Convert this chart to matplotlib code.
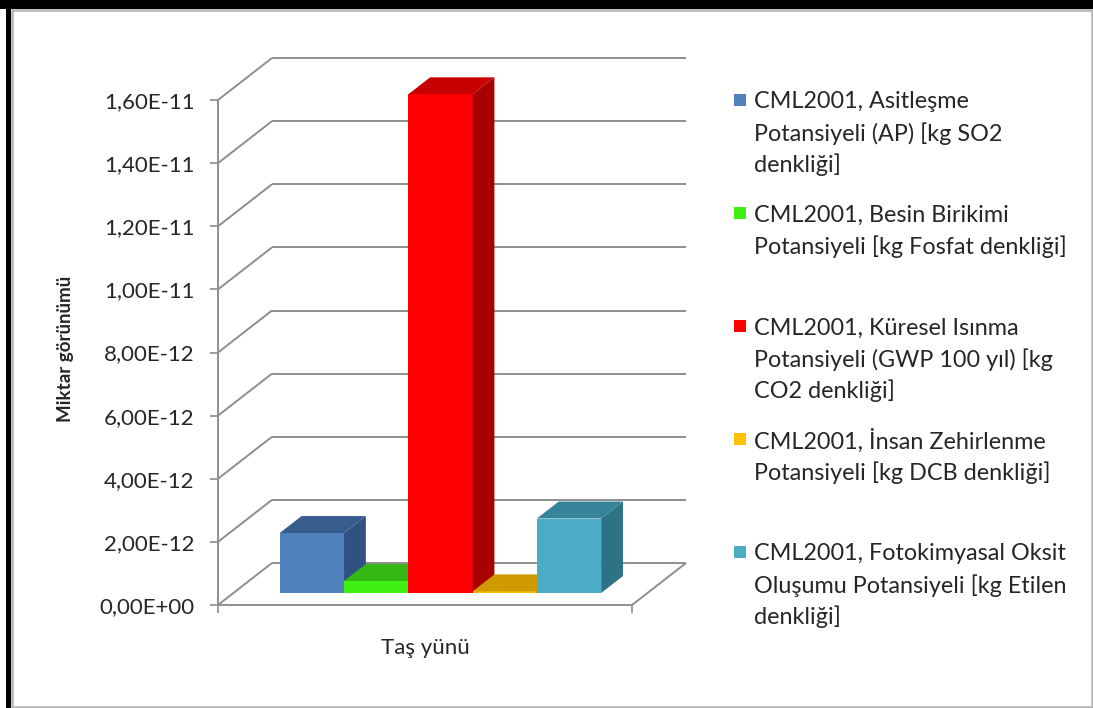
import numpy as np
import matplotlib
matplotlib.use("Agg")
import matplotlib.pyplot as plt
from matplotlib.patches import Polygon, Rectangle
from matplotlib.ticker import FuncFormatter, FixedLocator

plt.rcParams['font.family'] = ['Lato', 'DejaVu Sans']

# ---- data -------------------------------------------------------------
category = "Taş yünü"
series_labels = [
    "CML2001, Asitleşme\nPotansiyeli (AP) [kg SO2\ndenkliği]",
    "CML2001, Besin Birikimi\nPotansiyeli [kg Fosfat denkliği]",
    "CML2001, Küresel Isınma\nPotansiyeli (GWP 100 yıl) [kg\nCO2 denkliği]",
    "CML2001, İnsan Zehirlenme\nPotansiyeli [kg DCB denkliği]",
    "CML2001, Fotokimyasal Oksit\nOluşumu Potansiyeli [kg Etilen\ndenkliği]",
]
values = [1.90e-12, 3.8e-13, 1.58e-11, 5.0e-14, 2.36e-12]
y_ticks = [0, 2e-12, 4e-12, 6e-12, 8e-12, 1e-11, 1.2e-11, 1.4e-11, 1.6e-11]
y_title = "Miktar görünümü"

# face colours: front, top, side
front_colors = ["#4f81bd", "#40f012", "#ff0000", "#ffc000", "#4bacc6"]
top_colors = ["#375d8c", "#33b814", "#c80000", "#cf9a00", "#35849a"]
side_colors = ["#2f5282", "#279a0e", "#a80000", "#b08400", "#2e7286"]

GRID = "#8e8e8e"
TEXT = "#262626"

W, H = 1093, 708
fig = plt.figure(figsize=(W / 100, H / 100), dpi=100)
fig.patch.set_facecolor("white")

# front plane of the 3-D box
left_px, right_px, bot_px, top_px = 218, 632, 605, 100
ax = fig.add_axes([left_px / W, 1 - bot_px / H,
                   (right_px - left_px) / W, (bot_px - top_px) / H])
n = len(values)
gap = 0.72
xlim = (-0.5 - gap, n - 0.5 + gap)
ylim = (0, y_ticks[-1])
ax.set_xlim(*xlim)
ax.set_ylim(*ylim)
ax.patch.set_visible(False)

# depth vector (pixels) converted to data units
DX, DY = 54, 42
ux = (right_px - left_px) / (xlim[1] - xlim[0])
uy = (bot_px - top_px) / (ylim[1] - ylim[0])
ddx, ddy = DX / ux, DY / uy


def P(x, v, d):
    return (x + d * ddx, v + d * ddy)


def line3(p, q, **kw):
    ax.plot([p[0], q[0]], [p[1], q[1]], color=GRID, lw=1.4,
            solid_capstyle="butt", clip_on=False, zorder=1, **kw)


# walls: gridlines on the back wall and the left side wall
for v in y_ticks:
    line3(P(xlim[0], v, 0), P(xlim[0], v, 1))
    line3(P(xlim[0], v, 1), P(xlim[1], v, 1))
# right edge of the floor
line3(P(xlim[1], 0, 0), P(xlim[1], 0, 1))

# bars as boxes
D0, D1 = 0.286, 0.69
for i, h in enumerate(values):
    x0, x1 = i - 0.5, i + 0.5
    ax.bar(i + D0 * ddx, h, width=1.0, bottom=D0 * ddy,
           color=front_colors[i], linewidth=0, zorder=3 + i, clip_on=False)
    top = [P(x0, h, D0), P(x1, h, D0), P(x1, h, D1), P(x0, h, D1)]
    side = [P(x1, 0, D0), P(x1, h, D0), P(x1, h, D1), P(x1, 0, D1)]
    ax.add_patch(Polygon(side, closed=True, facecolor=side_colors[i],
                         edgecolor="none", zorder=3 + i, clip_on=False))
    ax.add_patch(Polygon(top, closed=True, facecolor=top_colors[i],
                         edgecolor="none", zorder=3 + i, clip_on=False))

# axes lines and ticks
for s in ("top", "right"):
    ax.spines[s].set_visible(False)
for s in ("left", "bottom"):
    ax.spines[s].set_color(GRID)
    ax.spines[s].set_linewidth(1.4)
    ax.spines[s].set_zorder(2)

ax.yaxis.set_major_locator(FixedLocator(y_ticks))
ax.yaxis.set_major_formatter(FuncFormatter(lambda v, p: f"{v:.2E}".replace(".", ",")))
ax.tick_params(axis="y", direction="out", length=6, width=1.2, color=GRID,
               pad=11, labelsize=16, labelcolor=TEXT)

ax.xaxis.set_major_locator(FixedLocator(list(xlim)))
ax.xaxis.set_major_formatter(FuncFormatter(lambda v, p: ""))
ax.xaxis.set_minor_locator(FixedLocator([(n - 1) / 2]))
ax.set_xticklabels([category], minor=True)
ax.tick_params(axis="x", which="major", direction="out", length=6, width=1.2,
               color=GRID)
ax.tick_params(axis="x", which="minor", length=0, pad=24, labelsize=16,
               labelcolor=TEXT)

fig.text(65 / W, 1 - 349 / H, y_title, rotation=90, ha="center", va="center",
         fontsize=13.5, fontweight="bold", color=TEXT)

# legend
leg_x_box, leg_x_text = 734, 754
first_y, slot, pitch = 100, 113, 31.5
for k, lab in enumerate(series_labels):
    y0 = first_y + k * slot
    fig.patches.append(Rectangle((leg_x_box / W, 1 - (y0 + 6) / H), 12 / W, 12 / H,
                                 transform=fig.transFigure,
                                 facecolor=front_colors[k], edgecolor="none"))
    for j, line in enumerate(lab.split("\n")):
        fig.text(leg_x_text / W, 1 - (y0 + j * pitch) / H, line,
                 ha="left", va="center_baseline", fontsize=16.8, color=TEXT)

# frame
fig.patches.append(Rectangle((12 / W, 1 / H), 1080 / W, 697 / H,
                             transform=fig.transFigure, facecolor="none",
                             edgecolor="#b4b4b4", linewidth=1.8))
fig.patches.append(Rectangle((0, 1 - 9 / H), 1, 9 / H, transform=fig.transFigure,
                             facecolor="black", edgecolor="none"))
fig.patches.append(Rectangle((6 / W, 0), 5 / W, 1, transform=fig.transFigure,
                             facecolor="black", edgecolor="none"))

fig.savefig("out.png", dpi=100, facecolor="white")
